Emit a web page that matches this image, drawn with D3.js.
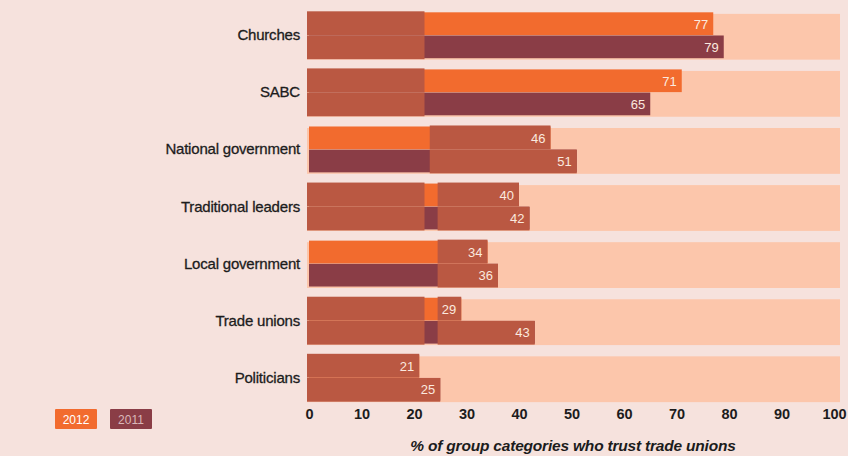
<!DOCTYPE html>
<html>
<head>
<meta charset="utf-8">
<script src="https://cdn.jsdelivr.net/npm/d3@7"></script>
<style>
  body { margin: 0; background: #f6e2dd; }
  svg { display: block; font-family: "Liberation Sans", Arial, sans-serif; }
</style>
</head>
<body>
<svg width="848" height="456"></svg>
<script>
const categories = ["Churches", "SABC", "National government", "Traditional leaders",
  "Local government", "Trade unions", "Politicians"];
const values2012 = [77, 71, 46, 40, 34, 29, 21];
const values2011 = [79, 65, 51, 42, 36, 43, 25];
const years = ["2012", "2011"];
const ticks = [0, 10, 20, 30, 40, 50, 60, 70, 80, 90, 100];
// reddish print overlay seen on the scanned bars, [from, to] in %; null = up to bar end
const overlay = [
  [[0, 22]],
  [[0, 22]],
  [[23, null]],
  [[0, 22], [24.5, null]],
  [[24.5, null]],
  [[0, 22], [24.5, null]],
  [[0, null]]
];

const svg = d3.select("svg");
const colors = {"2012": "#f26b2e", "2011": "#8a3d46"};

const x = d3.scaleLinear().domain([0, 100]).range([309, 834]);
const y = d3.scaleBand().domain(categories).range([9, 404]).paddingInner(0.18).paddingOuter(0.05);
const sub = d3.scaleBand().domain(years).range([0, y.bandwidth()]).padding(0.02);

const rows = categories.map((c, i) => ({
  cat: c, i, vals: {"2012": values2012[i], "2011": values2011[i]}
}));

// background tracks
svg.append("g")
  .selectAll("rect")
  .data(rows)
  .enter().append("rect")
    .attr("x", x(0) - 2)
    .attr("y", d => y(d.cat) + 2)
    .attr("width", 840 - x(0) + 2)
    .attr("height", y.bandwidth() - 1)
    .attr("fill", "#fcc6ab");

let bars = [];
rows.forEach(r => years.forEach(yr => bars.push({cat: r.cat, i: r.i, year: yr, v: r.vals[yr]})));

let g = svg.append("g");
g.selectAll(".bar")
  .data(bars)
  .enter().append("rect")
    .attr("class", "bar")
    .attr("x", x(0))
    .attr("y", d => y(d.cat) + sub(d.year))
    .attr("width", d => x(d.v) - x(0))
    .attr("height", sub.bandwidth())
    .attr("fill", d => colors[d.year]);

// overlay pieces
let pieces = [];
bars.forEach(b => overlay[b.i].forEach(s => {
  let to = s[1] === null ? b.v : Math.min(s[1], b.v);
  pieces.push({cat: b.cat, year: b.year, from: s[0], to: to});
}));
g.selectAll(".ov")
  .data(pieces)
  .enter().append("rect")
    .attr("class", "ov")
    .attr("x", d => x(d.from) - (d.from === 0 ? 2 : 0))
    .attr("y", d => y(d.cat) + sub(d.year) - (d.year === "2012" ? 1 : 0))
    .attr("width", d => x(d.to) - x(d.from) + (d.from === 0 ? 2 : 0))
    .attr("height", sub.bandwidth() + 1)
    .attr("fill", "#ba5842");

// value labels
g.selectAll(".val")
  .data(bars)
  .enter().append("text")
    .attr("x", d => x(d.v) - 5)
    .attr("y", d => y(d.cat) + sub(d.year) + sub.bandwidth() / 2 + 5)
    .attr("text-anchor", "end")
    .attr("fill", "#fbe9df")
    .attr("font-size", 13)
    .text(d => d.v);

// category labels
svg.append("g")
  .selectAll("text")
  .data(categories)
  .enter().append("text")
    .attr("x", 300)
    .attr("y", d => y(d) + y.bandwidth() / 2 + 5)
    .attr("text-anchor", "end")
    .attr("fill", "#1c1c1c")
    .attr("stroke", "#1c1c1c")
    .attr("stroke-width", 0.3)
    .attr("font-size", 15)
    .attr("letter-spacing", -0.2)
    .text(d => d);

// x axis labels only
const axis = svg.append("g")
  .attr("transform", "translate(0,404)")
  .call(d3.axisBottom(x).tickValues(ticks).tickSize(0).tickPadding(5));
axis.select(".domain").remove();
axis.selectAll("text")
  .attr("font-size", 14.5)
  .attr("font-weight", "bold")
  .attr("fill", "#1c1c1c")
  .attr("font-family", "Liberation Sans, Arial, sans-serif");

svg.append("text")
  .attr("x", 573)
  .attr("y", 451)
  .attr("text-anchor", "middle")
  .attr("font-size", 15.5)
  .attr("font-weight", "bold")
  .attr("font-style", "italic")
  .attr("fill", "#1c1c1c")
  .attr("letter-spacing", -0.2)
  .text("% of group categories who trust trade unions");

// legend
const legend = svg.append("g")
  .selectAll("g")
  .data(years)
  .enter().append("g")
    .attr("transform", (d, i) => `translate(${55 + i * 55},409)`);
legend.append("rect")
  .attr("width", 42)
  .attr("height", 20)
  .attr("rx", 1)
  .attr("fill", d => colors[d]);
legend.append("text")
  .attr("x", 21)
  .attr("y", 15)
  .attr("text-anchor", "middle")
  .attr("font-size", 12)
  .attr("fill", d => d === "2012" ? "#fff" : "#d9b7b9")
  .text(d => d);
</script>
</body>
</html>
